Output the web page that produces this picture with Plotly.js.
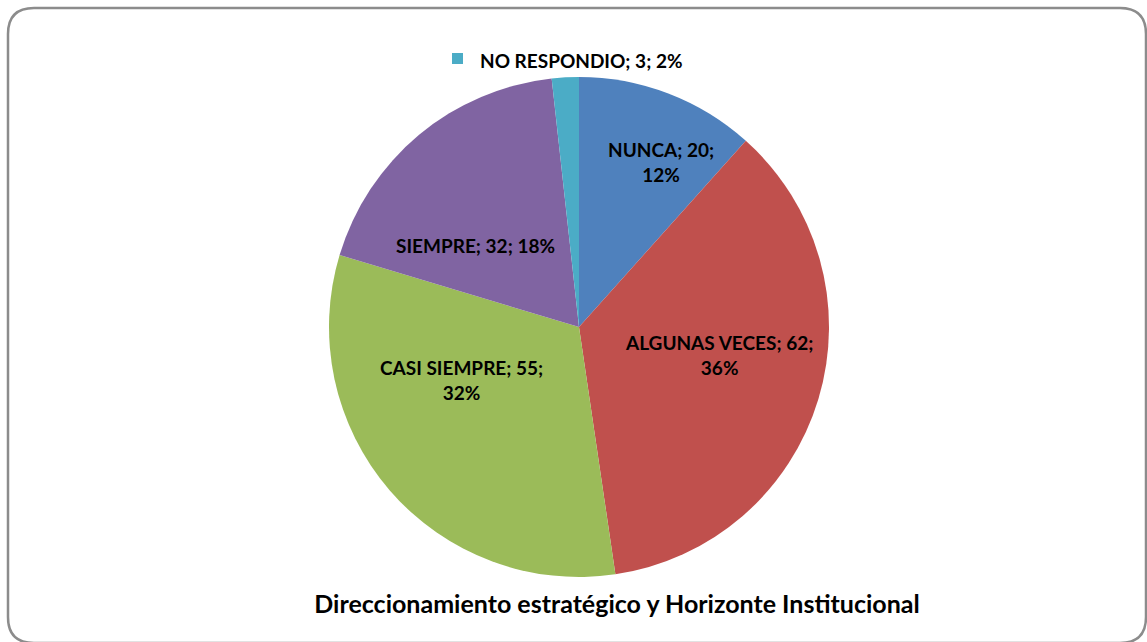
<!DOCTYPE html>
<html>
<head>
<meta charset="utf-8">
<script src="https://cdn.plot.ly/plotly-3.0.1.min.js"></script>
<style>html,body{margin:0;padding:0;background:#fff;}#chart{width:1147px;height:642px;}</style>
</head>
<body>
<div id="chart"></div>
<script>
const categories = ["NUNCA", "ALGUNAS VECES", "CASI SIEMPRE", "SIEMPRE", "NO RESPONDIO"];
const values = [20, 62, 55, 32, 3];
const percentLabels = ["12%", "36%", "32%", "18%", "2%"];
const colors = ["#4F81BD", "#C0504D", "#9BBB59", "#8064A2", "#4BACC6"];
const chartTitle = "Direccionamiento estratégico y Horizonte Institucional";

const W = 1147, H = 642;
const cx = 579, cy = 327, R = 250;
const FONT = "Lato, 'Open Sans', sans-serif";
const px = v => v / W, py = v => 1 - v / H;

// label placement (pixel centres) and line breaks, layout only
const labelPlacement = [
  {x: 661, y: 162, br: true},
  {x: 719, y: 355, br: true},
  {x: 461, y: 380, br: true},
  {x: 475, y: 245, br: false}
];

const trace = {
  type: "pie",
  labels: categories,
  values: values,
  textinfo: "none",
  sort: false,
  direction: "clockwise",
  rotation: 0,
  marker: {colors: colors, line: {width: 0}},
  hoverinfo: "label+value+percent",
  showlegend: false,
  domain: {x: [px(cx - R), px(cx + R)], y: [py(cy + R), py(cy - R)]}
};

const annotations = labelPlacement.map((p, i) => ({
  xref: "paper", yref: "paper",
  x: px(p.x), y: py(p.y), xanchor: "center", yanchor: "middle",
  text: "<b>" + categories[i] + "; " + values[i] + ";" + (p.br ? "<br>" : " ") + percentLabels[i] + "</b>",
  showarrow: false, align: "center",
  font: {family: FONT, size: 19, color: "#000"}
}));

const last = categories.length - 1;
annotations.push({
  xref: "paper", yref: "paper",
  x: px(478), y: py(60), xanchor: "left", yanchor: "middle",
  text: "<b>" + categories[last] + "; " + values[last] + "; " + percentLabels[last] + "</b>",
  showarrow: false,
  font: {family: FONT, size: 19, color: "#000"}
});

const framePath = (function () {
  const x0 = 8, y0 = 8, x1 = 1146, y1 = 643, r = 26;
  return "M " + px(x0 + r) + "," + py(y0) +
    " L " + px(x1 - r) + "," + py(y0) +
    " Q " + px(x1) + "," + py(y0) + " " + px(x1) + "," + py(y0 + r) +
    " L " + px(x1) + "," + py(y1 - r) +
    " Q " + px(x1) + "," + py(y1) + " " + px(x1 - r) + "," + py(y1) +
    " L " + px(x0 + r) + "," + py(y1) +
    " Q " + px(x0) + "," + py(y1) + " " + px(x0) + "," + py(y1 - r) +
    " L " + px(x0) + "," + py(y0 + r) +
    " Q " + px(x0) + "," + py(y0) + " " + px(x0 + r) + "," + py(y0) + " Z";
})();

const layout = {
  width: W, height: H,
  margin: {l: 0, r: 0, t: 0, b: 0},
  paper_bgcolor: "#fff",
  showlegend: false,
  title: {
    text: "<b>" + chartTitle + "</b>",
    x: px(617), xanchor: "center",
    y: py(604), yanchor: "middle",
    font: {family: FONT, size: 25, color: "#000"}
  },
  annotations: annotations,
  shapes: [
    {type: "rect", xref: "paper", yref: "paper",
     x0: px(452), x1: px(463), y0: py(64), y1: py(53),
     fillcolor: colors[last], line: {width: 0}},
    {type: "path", xref: "paper", yref: "paper", path: framePath,
     line: {color: "#8C8C8C", width: 2.5}, fillcolor: "rgba(0,0,0,0)"}
  ]
};

Plotly.newPlot("chart", [trace], layout, {displayModeBar: false, staticPlot: true});
</script>
</body>
</html>
